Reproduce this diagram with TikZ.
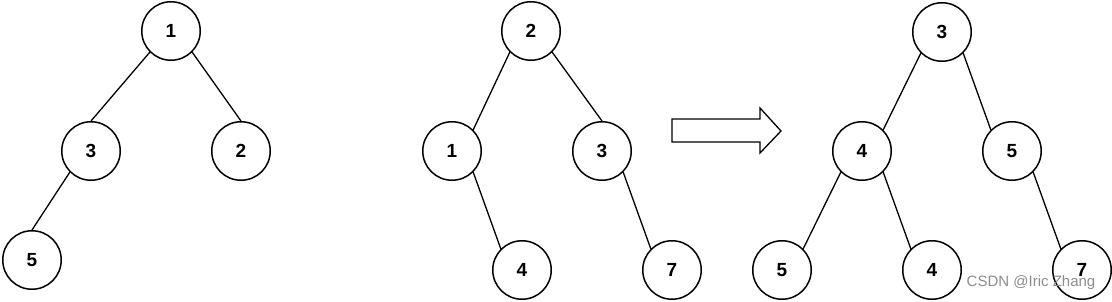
\documentclass[tikz,border=0pt]{standalone}
\usepackage{fontspec}
\setmainfont{Liberation Sans}
\begin{document}
\begin{tikzpicture}[x=1pt,y=-1pt,
  tn/.style={circle,draw=black,line width=1.5pt,fill=white,minimum size=58.5pt,inner sep=0pt,font=\fontsize{19}{19}\selectfont\bfseries},
  ed/.style={line width=1.3pt,draw=black},
  wm/.style={text=black!45,font=\fontsize{15}{15}\selectfont}]
\useasboundingbox (0,0) rectangle (1112,302);
% tree 1
\node[tn] (a1) at (171,31) {1};
\node[tn] (a3) at (91,151) {3};
\node[tn] (a2) at (241,151) {2};
\node[tn] (a5) at (32,260) {5};
\draw[ed] (a1.south west) -- (a3.north);
\draw[ed] (a1.south east) -- (a2.north);
\draw[ed] (a3.south west) -- (a5.north);
% tree 2
\node[tn] (b2) at (531,31) {2};
\node[tn] (b1) at (452,151) {1};
\node[tn] (b3) at (602,151) {3};
\node[tn] (b4) at (522,270) {4};
\node[tn] (b7) at (672,270) {7};
\draw[ed] (b2.south west) -- (b1.north east);
\draw[ed] (b2.south east) -- (b3.north);
\draw[ed] (b1.south east) -- (b4.north west);
\draw[ed] (b3.south east) -- (b7.north west);
% arrow
\draw[line width=1.3pt,line join=miter]
  (672,119) -- (760,119) -- (760,108) -- (781,131) -- (760,153) -- (760,142) -- (672,142) -- cycle;
% tree 3
\node[tn] (c3) at (942,32) {3};
\node[tn] (c4) at (862,151) {4};
\node[tn] (c5) at (1012,151) {5};
\node[tn] (d5) at (782,270) {5};
\node[tn] (d4) at (932,270) {4};
\node[tn] (d7) at (1082,270) {7};
\draw[ed] (c3.south west) -- (c4.north east);
\draw[ed] (c3.south east) -- (c5.north west);
\draw[ed] (c4.south west) -- (d5.north east);
\draw[ed] (c4.south east) -- (d4.north west);
\draw[ed] (c5.south east) -- (d7.north west);
% watermark
\node[wm] (wm) at (1031,283) {CSDN @Iric Zhang};
\end{tikzpicture}
\end{document}
